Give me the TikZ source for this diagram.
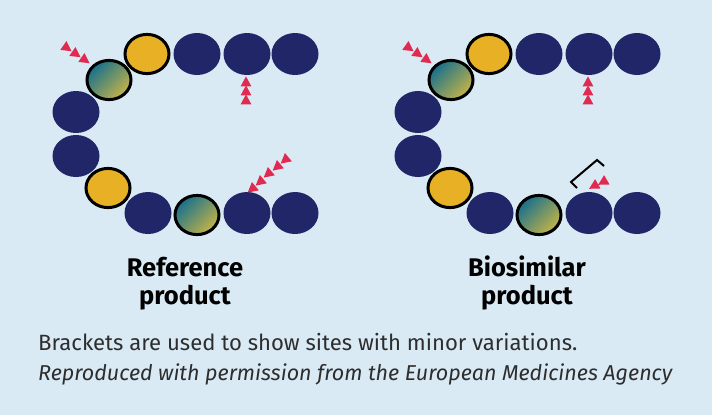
\documentclass[tikz,border=0pt]{standalone}
\usepackage{fontspec}
\setmainfont{Fira Sans}
\definecolor{bg}{RGB}{218,234,244}
\definecolor{navy}{RGB}{33,38,104}
\definecolor{gold}{RGB}{232,176,36}
\definecolor{tealA}{RGB}{24,112,140}
\definecolor{tealM}{RGB}{70,145,135}
\definecolor{tealB}{RGB}{196,180,72}
\definecolor{arr}{RGB}{224,42,80}
\definecolor{captxt}{RGB}{45,45,45}
\newcommand\navyball[1]{\fill[navy] #1 ellipse [x radius=23.5,y radius=21];}
\newcommand\goldball[1]{\filldraw[fill=gold,draw=black,line width=3pt] #1 ellipse [x radius=22,y radius=19.6];}
\newcommand\tealball[1]{\shade[left color=tealA,middle color=tealM,right color=tealB,shading angle=45] #1 ellipse [x radius=22,y radius=19.6];
  \draw[black,line width=3pt] #1 ellipse [x radius=22,y radius=19.6];}
\newcommand\redtri[2]{\fill[arr,shift={#1},rotate=#2] (5.6,0) -- (-4.4,5.4) -- (-4.4,-5.4) -- cycle;}
\tikzset{title/.style={anchor=base,font=\fontsize{25.5}{30}\selectfont\bfseries,text=black},
  caption/.style={anchor=base west,inner sep=0,text=captxt}}
\begin{document}
\begin{tikzpicture}[x=1pt,y=-1pt]
\fill[bg] (0,0) rectangle (712,415);
\useasboundingbox (0,0) rectangle (712,415);
\foreach \dx in {0,342}{
\begin{scope}[xshift=\dx pt]
  % top row
  \goldball{(147,54)}
  \navyball{(197,54)}
  \navyball{(247,54)}
  \navyball{(295,54)}
  % left arc
  \tealball{(109,80)}
  \navyball{(76,112)}
  \navyball{(76,156)}
  \goldball{(108,188)}
  % bottom row
  \navyball{(148,213)}
  \tealball{(197,215)}
  \navyball{(247,213)}
  \navyball{(295,213)}
  % arrows
  \redtri{(67,48)}{-35}
  \redtri{(76,54)}{-35}
  \redtri{(85,60)}{-35}
  \redtri{(246,82)}{90}
  \redtri{(246,91)}{90}
  \redtri{(246,100)}{90}
\end{scope}
}
% reference bottom-right arrows
\redtri{(285,160)}{-140}
\redtri{(277,167)}{-140}
\redtri{(268,174)}{-140}
\redtri{(260,182)}{-140}
\redtri{(252,189)}{-140}
% biosimilar bracket and arrows
\draw[black,line width=2pt,line join=miter] (577,188) -- (571,182) -- (597,160) -- (604,166);
\redtri{(594,186)}{-150}
\redtri{(603,182)}{-150}
% titles
\node[title] (t1) at (185,276) {Reference};
\node[title] (t2) at (185,304) {product};
\node[title] (t3) at (527,276) {Biosimilar};
\node[title] (t4) at (527,304) {product};
% captions
\node[caption,font=\fontsize{22.1}{24}\selectfont] (c1) at (38,350) {Brackets are used to show sites with minor variations.};
\node[caption,font=\fontsize{21.5}{24}\selectfont\itshape] (c2) at (38,380) {Reproduced with permission from the European Medicines Agency};
\end{tikzpicture}
\end{document}
